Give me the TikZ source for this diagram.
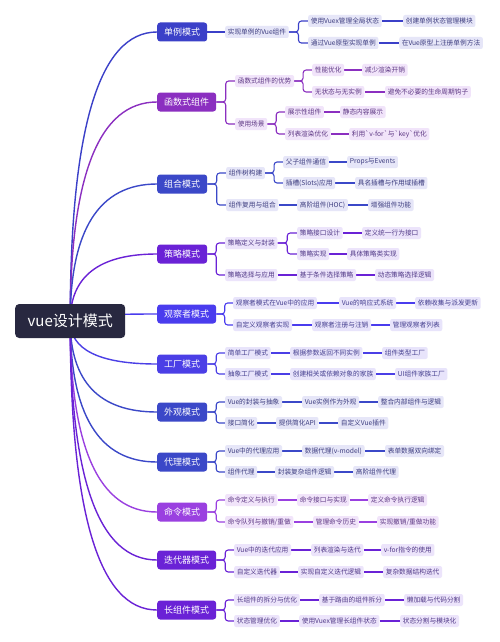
\documentclass[tikz,border=0pt]{standalone}
\usepackage{fontspec}
\setmainfont{Noto Sans CJK SC}
\usetikzlibrary{calc}
\pgfdeclarelayer{bg}
\pgfsetlayers{bg,main}
\definecolor{cA}{HTML}{3B40C8}
\definecolor{cB}{HTML}{8B2FC0}
\definecolor{cC}{HTML}{3B48C8}
\definecolor{cD}{HTML}{6A22D6}
\definecolor{cE}{HTML}{4A3CEE}
\definecolor{cF}{HTML}{4B3FE6}
\definecolor{cI}{HTML}{9A40E0}
\definecolor{rootc}{HTML}{282840}
\definecolor{lBlue}{HTML}{E6E6F8}
\definecolor{tBlue}{HTML}{3E3E80}
\definecolor{lPur}{HTML}{F1E4FA}
\definecolor{tPur}{HTML}{5E3884}
\definecolor{lVio}{HTML}{ECE4FB}
\definecolor{tVio}{HTML}{523A88}
\definecolor{lInd}{HTML}{E8E4FB}
\definecolor{tInd}{HTML}{464090}
\tikzset{
  rootbox/.style={fill=rootc, text=white, rounded corners=4pt, font=\fontsize{15}{15}\selectfont, minimum width=110pt, minimum height=34pt, anchor=west},
  topbox/.style={fill=#1, text=white, rounded corners=3pt, font=\fontsize{9}{9}\selectfont, inner xsep=7pt, inner ysep=0pt, minimum height=19pt, anchor=west},
  leafbox/.style 2 args={fill=#1, text=#2, rounded corners=2pt, font=\fontsize{6.7}{6.7}\selectfont, inner xsep=2.6pt, inner ysep=0pt, minimum height=12pt, anchor=west},
  lk/.style={draw=#1, line width=1.1pt, rounded corners=3pt},
  rootlk/.style={draw=#1, line width=1.4pt},
}
\newcommand\myelbow[3]{\draw[lk=#3] (#1.east) -- ($(#1.east)!0.5!(#1.east -| #2.west)$) |- (#2.west);}
\newcommand\mystraight[3]{\draw[lk=#3] (#1.east) -- (#2.west);}
\begin{document}
\begin{tikzpicture}[x=1pt,y=-1pt]
\useasboundingbox (0,0) rectangle (500,642);
\node[rootbox] (root) at (15,321) {vue设计模式};
% level 1
\node[topbox=cA] (a) at (157,32) {单例模式};
\node[topbox=cB] (b) at (157,102) {函数式组件};
\node[topbox=cC] (c) at (157,184) {组合模式};
\node[topbox=cD] (d) at (157,254) {策略模式};
\node[topbox=cE] (e) at (157,314) {观察者模式};
\node[topbox=cF] (f) at (157,364) {工厂模式};
\node[topbox=cC] (g) at (157,412) {外观模式};
\node[topbox=cC] (h) at (157,462) {代理模式};
\node[topbox=cI] (i) at (157,512) {命令模式};
\node[topbox=cD] (j) at (157,560) {迭代器模式};
\node[topbox=cD] (k) at (157,610) {长组件模式};
% A
\node[leafbox={lBlue}{tBlue}] (a1) at (225,32) {实现单例的Vue组件};
\node[leafbox={lBlue}{tBlue}] (a11) at (308,21) {使用Vuex管理全局状态};
\node[leafbox={lBlue}{tBlue}] (a111) at (403,21) {创建单例状态管理模块};
\node[leafbox={lBlue}{tBlue}] (a12) at (308,43) {通过Vue原型实现单例};
\node[leafbox={lBlue}{tBlue}] (a121) at (399,43) {在Vue原型上注册单例方法};
% B
\node[leafbox={lPur}{tPur}] (b1) at (235,81) {函数式组件的优势};
\node[leafbox={lPur}{tPur}] (b11) at (312,70) {性能优化};
\node[leafbox={lPur}{tPur}] (b111) at (362,70) {减少渲染开销};
\node[leafbox={lPur}{tPur}] (b12) at (312,92) {无状态与无实例};
\node[leafbox={lPur}{tPur}] (b121) at (385,92) {避免不必要的生命周期钩子};
\node[leafbox={lPur}{tPur}] (b2) at (235,124) {使用场景};
\node[leafbox={lPur}{tPur}] (b21) at (285,112) {展示性组件};
\node[leafbox={lPur}{tPur}] (b211) at (340,112) {静态内容展示};
\node[leafbox={lPur}{tPur}] (b22) at (285,134) {列表渲染优化};
\node[leafbox={lPur}{tPur}] (b221) at (349,134) {利用\textasciigrave v-for\textasciigrave 与\textasciigrave key\textasciigrave 优化};
% C
\node[leafbox={lBlue}{tBlue}] (c1) at (226,173) {组件树构建};
\node[leafbox={lBlue}{tBlue}] (c11) at (283,162) {父子组件通信};
\node[leafbox={lBlue}{tBlue}] (c111) at (347,162) {Props与Events};
\node[leafbox={lBlue}{tBlue}] (c12) at (283,183) {插槽(Slots)应用};
\node[leafbox={lBlue}{tBlue}] (c121) at (355,183) {具名插槽与作用域插槽};
\node[leafbox={lBlue}{tBlue}] (c2) at (226,205) {组件复用与组合};
\node[leafbox={lBlue}{tBlue}] (c21) at (297,205) {高阶组件(HOC)};
\node[leafbox={lBlue}{tBlue}] (c211) at (368,205) {增强组件功能};
% D
\node[leafbox={lVio}{tVio}] (d1) at (225,243) {策略定义与封装};
\node[leafbox={lVio}{tVio}] (d11) at (297,233) {策略接口设计};
\node[leafbox={lVio}{tVio}] (d111) at (362,233) {定义统一行为接口};
\node[leafbox={lVio}{tVio}] (d12) at (297,254) {策略实现};
\node[leafbox={lVio}{tVio}] (d121) at (347,254) {具体策略类实现};
\node[leafbox={lVio}{tVio}] (d2) at (225,275) {策略选择与应用};
\node[leafbox={lVio}{tVio}] (d21) at (297,275) {基于条件选择策略};
\node[leafbox={lVio}{tVio}] (d211) at (375,275) {动态策略选择逻辑};
% E
\node[leafbox={lInd}{tInd}] (e1) at (233,303) {观察者模式在Vue中的应用};
\node[leafbox={lInd}{tInd}] (e11) at (339,303) {Vue的响应式系统};
\node[leafbox={lInd}{tInd}] (e111) at (415,303) {依赖收集与派发更新};
\node[leafbox={lInd}{tInd}] (e2) at (233,325) {自定义观察者实现};
\node[leafbox={lInd}{tInd}] (e21) at (312,325) {观察者注册与注销};
\node[leafbox={lInd}{tInd}] (e211) at (390,325) {管理观察者列表};
% F
\node[leafbox={lInd}{tInd}] (f1) at (225,353) {简单工厂模式};
\node[leafbox={lInd}{tInd}] (f11) at (290,353) {根据参数返回不同实例};
\node[leafbox={lInd}{tInd}] (f111) at (382,353) {组件类型工厂};
\node[leafbox={lInd}{tInd}] (f2) at (225,374) {抽象工厂模式};
\node[leafbox={lInd}{tInd}] (f21) at (290,374) {创建相关或依赖对象的家族};
\node[leafbox={lInd}{tInd}] (f211) at (395,374) {UI组件家族工厂};
% G
\node[leafbox={lBlue}{tBlue}] (g1) at (225,402) {Vue的封装与抽象};
\node[leafbox={lBlue}{tBlue}] (g11) at (302,402) {Vue实例作为外观};
\node[leafbox={lBlue}{tBlue}] (g111) at (378,402) {整合内部组件与逻辑};
\node[leafbox={lBlue}{tBlue}] (g2) at (225,423) {接口简化};
\node[leafbox={lBlue}{tBlue}] (g21) at (276,423) {提供简化API};
\node[leafbox={lBlue}{tBlue}] (g211) at (338,423) {自定义Vue插件};
% H
\node[leafbox={lBlue}{tBlue}] (h1) at (225,451) {Vue中的代理应用};
\node[leafbox={lBlue}{tBlue}] (h11) at (302,451) {数据代理(v-model)};
\node[leafbox={lBlue}{tBlue}] (h111) at (385,451) {表单数据双向绑定};
\node[leafbox={lBlue}{tBlue}] (h2) at (225,472) {组件代理};
\node[leafbox={lBlue}{tBlue}] (h21) at (275,472) {封装复杂组件逻辑};
\node[leafbox={lBlue}{tBlue}] (h211) at (353,472) {高阶组件代理};
% I
\node[leafbox={lPur}{tPur}] (i1) at (225,500) {命令定义与执行};
\node[leafbox={lPur}{tPur}] (i11) at (297,500) {命令接口与实现};
\node[leafbox={lPur}{tPur}] (i111) at (368,500) {定义命令执行逻辑};
\node[leafbox={lPur}{tPur}] (i2) at (225,522) {命令队列与撤销/重做};
\node[leafbox={lPur}{tPur}] (i21) at (313,522) {管理命令历史};
\node[leafbox={lPur}{tPur}] (i211) at (377,522) {实现撤销/重做功能};
% J
\node[leafbox={lVio}{tVio}] (j1) at (234,550) {Vue中的迭代应用};
\node[leafbox={lVio}{tVio}] (j11) at (311,550) {列表渲染与迭代};
\node[leafbox={lVio}{tVio}] (j111) at (381,550) {v-for指令的使用};
\node[leafbox={lVio}{tVio}] (j2) at (234,572) {自定义迭代器};
\node[leafbox={lVio}{tVio}] (j21) at (298,572) {实现自定义迭代逻辑};
\node[leafbox={lVio}{tVio}] (j211) at (383,572) {复杂数据结构迭代};
% K
\node[leafbox={lVio}{tVio}] (k1) at (234,600) {长组件的拆分与优化};
\node[leafbox={lVio}{tVio}] (k11) at (319,600) {基于路由的组件拆分};
\node[leafbox={lVio}{tVio}] (k111) at (404,600) {懒加载与代码分割};
\node[leafbox={lVio}{tVio}] (k2) at (234,621) {状态管理优化};
\node[leafbox={lVio}{tVio}] (k21) at (299,621) {使用Vuex管理长组件状态};
\node[leafbox={lVio}{tVio}] (k211) at (400,621) {状态分割与模块化};
\begin{pgfonlayer}{bg}
\fill[white] (0,0) rectangle (500,642);
\foreach \n/\c in {a/cA,b/cB,c/cC,d/cD,e/cE,f/cF,g/cC,h/cC,i/cI,j/cD,k/cD}{
  \coordinate (q) at (root.center |- \n.west);
  \draw[rootlk=\c] (root.center) .. controls ($(root.center)!0.667!(q)$) and ($(\n.west)!0.667!(q)$) .. (\n.west);
}
% A
\mystraight{a}{a1}{cA}
\myelbow{a1}{a11}{cA}\myelbow{a1}{a12}{cA}
\mystraight{a11}{a111}{cA}\mystraight{a12}{a121}{cA}
% B
\myelbow{b}{b1}{cB}\myelbow{b}{b2}{cB}
\myelbow{b1}{b11}{cB}\myelbow{b1}{b12}{cB}
\myelbow{b2}{b21}{cB}\myelbow{b2}{b22}{cB}
\mystraight{b11}{b111}{cB}\mystraight{b12}{b121}{cB}
\mystraight{b21}{b211}{cB}\mystraight{b22}{b221}{cB}
% C
\myelbow{c}{c1}{cC}\myelbow{c}{c2}{cC}
\myelbow{c1}{c11}{cC}\myelbow{c1}{c12}{cC}
\mystraight{c11}{c111}{cC}\mystraight{c12}{c121}{cC}
\mystraight{c2}{c21}{cC}\mystraight{c21}{c211}{cC}
% D
\myelbow{d}{d1}{cD}\myelbow{d}{d2}{cD}
\myelbow{d1}{d11}{cD}\myelbow{d1}{d12}{cD}
\mystraight{d11}{d111}{cD}\mystraight{d12}{d121}{cD}
\mystraight{d2}{d21}{cD}\mystraight{d21}{d211}{cD}
% E
\myelbow{e}{e1}{cE}\myelbow{e}{e2}{cE}
\mystraight{e1}{e11}{cE}\mystraight{e11}{e111}{cE}
\mystraight{e2}{e21}{cE}\mystraight{e21}{e211}{cE}
% F
\myelbow{f}{f1}{cF}\myelbow{f}{f2}{cF}
\mystraight{f1}{f11}{cF}\mystraight{f11}{f111}{cF}
\mystraight{f2}{f21}{cF}\mystraight{f21}{f211}{cF}
% G
\myelbow{g}{g1}{cC}\myelbow{g}{g2}{cC}
\mystraight{g1}{g11}{cC}\mystraight{g11}{g111}{cC}
\mystraight{g2}{g21}{cC}\mystraight{g21}{g211}{cC}
% H
\myelbow{h}{h1}{cC}\myelbow{h}{h2}{cC}
\mystraight{h1}{h11}{cC}\mystraight{h11}{h111}{cC}
\mystraight{h2}{h21}{cC}\mystraight{h21}{h211}{cC}
% I
\myelbow{i}{i1}{cI}\myelbow{i}{i2}{cI}
\mystraight{i1}{i11}{cI}\mystraight{i11}{i111}{cI}
\mystraight{i2}{i21}{cI}\mystraight{i21}{i211}{cI}
% J
\myelbow{j}{j1}{cD}\myelbow{j}{j2}{cD}
\mystraight{j1}{j11}{cD}\mystraight{j11}{j111}{cD}
\mystraight{j2}{j21}{cD}\mystraight{j21}{j211}{cD}
% K
\myelbow{k}{k1}{cD}\myelbow{k}{k2}{cD}
\mystraight{k1}{k11}{cD}\mystraight{k11}{k111}{cD}
\mystraight{k2}{k21}{cD}\mystraight{k21}{k211}{cD}
\end{pgfonlayer}
\end{tikzpicture}
\end{document}
